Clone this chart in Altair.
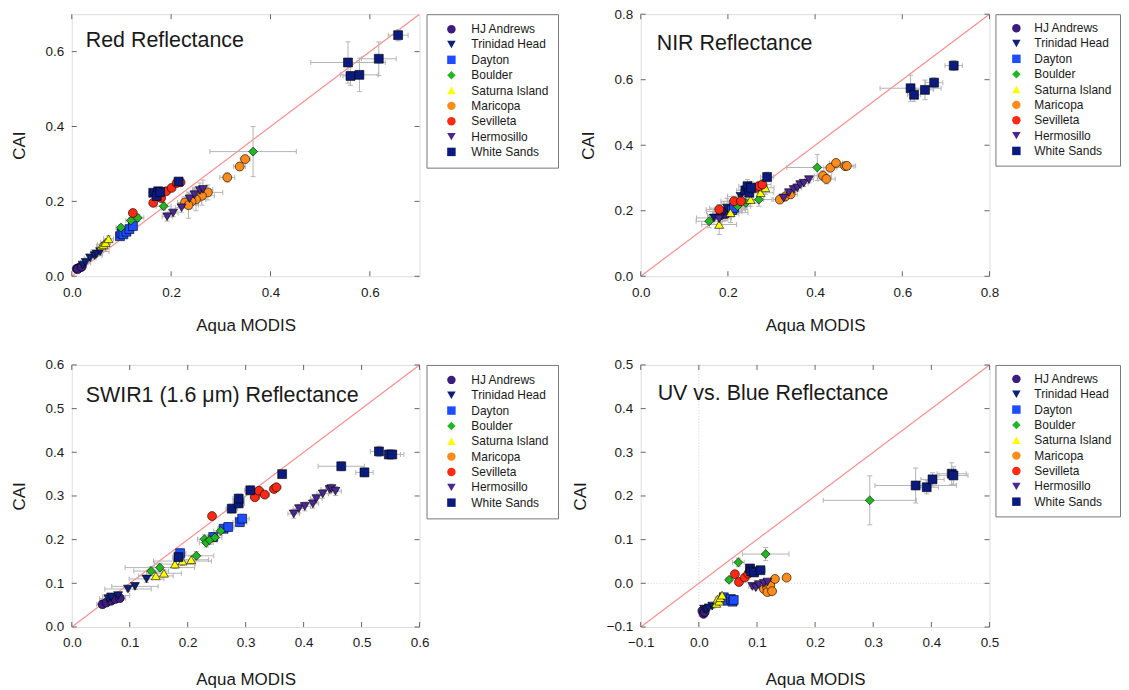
import altair as alt
import pandas as pd

FONT = "Liberation Sans"
SITES = ["HJ Andrews", "Trinidad Head", "Dayton", "Boulder", "Saturna Island",
         "Maricopa", "Sevilleta", "Hermosillo", "White Sands"]
COLORS = ["#3c1c7c", "#0d1f78", "#1d4dff", "#22b622", "#ffff00",
          "#ff8c1a", "#ff2a14", "#4a2690", "#0b1a7d"]
SHAPES = ["circle", "triangle-down", "square", "diamond", "triangle-up",
          "circle", "circle", "triangle-down", "square"]

PANEL_TITLES = ["Red Reflectance", "NIR Reflectance",
                "SWIR1 (1.6 \u03bcm) Reflectance", "UV vs. Blue Reflectance"]
DOMAINS = [[0, 0.7], [0, 0.8], [0, 0.6], [-0.1, 0.5]]
TICKS = [[0, 0.2, 0.4, 0.6], [0, 0.2, 0.4, 0.6, 0.8],
         [0, 0.1, 0.2, 0.3, 0.4, 0.5, 0.6], [-0.1, 0, 0.1, 0.2, 0.3, 0.4, 0.5]]
X_TITLE = "Aqua MODIS"
Y_TITLE = "CAI"

# (x, y, x error, y error)
RED_HJ_ANDREWS = [(0.010, 0.020, 0.004, 0.003), (0.014, 0.022, 0.004, 0.003), (0.017, 0.024, 0.005, 0.003),
                  (0.012, 0.019, 0.004, 0.003), (0.020, 0.025, 0.005, 0.004)]
RED_TRINIDAD_HEAD = [(0.022, 0.030, 0.008, 0.004), (0.028, 0.037, 0.010, 0.005), (0.037, 0.049, 0.012, 0.006),
                     (0.046, 0.055, 0.015, 0.006), (0.050, 0.060, 0.012, 0.006), (0.057, 0.066, 0.018, 0.008)]
RED_DAYTON = [(0.097, 0.107, 0.008, 0.006), (0.100, 0.115, 0.008, 0.006), (0.104, 0.112, 0.008, 0.006),
              (0.110, 0.119, 0.008, 0.006), (0.116, 0.126, 0.009, 0.007), (0.123, 0.134, 0.010, 0.007)]
RED_BOULDER = [(0.099, 0.130, 0.010, 0.008), (0.119, 0.149, 0.010, 0.008), (0.133, 0.156, 0.012, 0.009),
               (0.185, 0.187, 0.015, 0.010), (0.365, 0.333, 0.087, 0.067)]
RED_SATURNA = [(0.060, 0.081, 0.010, 0.006), (0.064, 0.085, 0.012, 0.007), (0.068, 0.090, 0.010, 0.007),
               (0.074, 0.100, 0.010, 0.008)]
RED_MARICOPA = [(0.349, 0.313, 0.010, 0.010), (0.338, 0.293, 0.012, 0.010), (0.313, 0.264, 0.015, 0.012),
                (0.274, 0.224, 0.030, 0.020), (0.262, 0.215, 0.025, 0.025), (0.250, 0.205, 0.020, 0.030),
                (0.241, 0.200, 0.020, 0.020), (0.228, 0.197, 0.015, 0.015), (0.235, 0.190, 0.020, 0.035)]
RED_SEVILLETA = [(0.123, 0.169, 0.005, 0.005), (0.164, 0.196, 0.006, 0.006), (0.180, 0.209, 0.006, 0.006),
                 (0.190, 0.227, 0.006, 0.006), (0.201, 0.236, 0.006, 0.006), (0.211, 0.249, 0.006, 0.006),
                 (0.219, 0.251, 0.006, 0.006)]
RED_HERMOSILLO = [(0.192, 0.159, 0.010, 0.012), (0.204, 0.169, 0.010, 0.010), (0.221, 0.183, 0.012, 0.012),
                  (0.237, 0.207, 0.015, 0.015), (0.247, 0.218, 0.015, 0.020), (0.258, 0.229, 0.015, 0.020),
                  (0.264, 0.232, 0.020, 0.025)]
RED_WHITE_SANDS = [(0.556, 0.571, 0.075, 0.055), (0.561, 0.535, 0.015, 0.025), (0.579, 0.538, 0.038, 0.045),
                   (0.618, 0.581, 0.035, 0.045), (0.657, 0.644, 0.020, 0.015), (0.164, 0.223, 0.008, 0.006),
                   (0.174, 0.227, 0.008, 0.006), (0.171, 0.214, 0.008, 0.006), (0.178, 0.225, 0.008, 0.006),
                   (0.215, 0.253, 0.006, 0.005)]

NIR_HJ_ANDREWS = [(0.183, 0.186, 0.03, 0.02), (0.195, 0.190, 0.03, 0.02), (0.203, 0.199, 0.03, 0.02),
                  (0.210, 0.205, 0.03, 0.02)]
NIR_TRINIDAD_HEAD = [(0.168, 0.178, 0.04, 0.02), (0.191, 0.198, 0.04, 0.03), (0.198, 0.208, 0.04, 0.03),
                     (0.215, 0.220, 0.03, 0.02), (0.229, 0.244, 0.03, 0.02)]
NIR_DAYTON = [(0.210, 0.202, 0.03, 0.02), (0.214, 0.209, 0.03, 0.02)]
NIR_BOULDER = [(0.157, 0.168, 0.03, 0.02), (0.222, 0.214, 0.03, 0.02), (0.241, 0.224, 0.03, 0.02),
               (0.271, 0.234, 0.03, 0.02), (0.405, 0.332, 0.07, 0.04)]
NIR_SATURNA = [(0.180, 0.158, 0.04, 0.03), (0.206, 0.194, 0.04, 0.03), (0.252, 0.234, 0.03, 0.02),
               (0.275, 0.255, 0.03, 0.02), (0.286, 0.270, 0.02, 0.02)]
NIR_MARICOPA = [(0.319, 0.234, 0.015, 0.01), (0.332, 0.244, 0.015, 0.01), (0.344, 0.250, 0.015, 0.01),
                (0.418, 0.307, 0.020, 0.015), (0.426, 0.297, 0.020, 0.015), (0.435, 0.331, 0.015, 0.01),
                (0.448, 0.346, 0.015, 0.01), (0.469, 0.336, 0.020, 0.01), (0.473, 0.337, 0.020, 0.01)]
NIR_SEVILLETA = [(0.180, 0.204, 0.03, 0.015), (0.214, 0.229, 0.03, 0.015), (0.230, 0.229, 0.03, 0.015),
                 (0.264, 0.270, 0.02, 0.015), (0.271, 0.275, 0.02, 0.015), (0.279, 0.280, 0.02, 0.015)]
NIR_HERMOSILLO = [(0.180, 0.175, 0.02, 0.015), (0.328, 0.239, 0.01, 0.01), (0.340, 0.255, 0.01, 0.01),
                  (0.351, 0.265, 0.01, 0.01), (0.359, 0.270, 0.01, 0.01), (0.366, 0.280, 0.01, 0.01),
                  (0.374, 0.284, 0.01, 0.01), (0.386, 0.295, 0.01, 0.01)]
NIR_WHITE_SANDS = [(0.619, 0.574, 0.07, 0.04), (0.627, 0.554, 0.015, 0.02), (0.652, 0.569, 0.02, 0.03),
                   (0.673, 0.591, 0.02, 0.015), (0.718, 0.643, 0.02, 0.015), (0.240, 0.262, 0.02, 0.02),
                   (0.245, 0.275, 0.02, 0.02), (0.249, 0.255, 0.02, 0.02), (0.253, 0.270, 0.02, 0.02),
                   (0.290, 0.303, 0.015, 0.015)]

SWIR_HJ_ANDREWS = [(0.053, 0.052, 0.01, 0.005), (0.060, 0.056, 0.01, 0.005), (0.068, 0.060, 0.01, 0.005),
                   (0.075, 0.064, 0.01, 0.005), (0.083, 0.066, 0.01, 0.005)]
SWIR_TRINIDAD_HEAD = [(0.063, 0.065, 0.015, 0.005), (0.068, 0.069, 0.015, 0.005), (0.080, 0.072, 0.02, 0.006),
                      (0.097, 0.087, 0.04, 0.006), (0.109, 0.093, 0.04, 0.007), (0.129, 0.110, 0.03, 0.008)]
SWIR_DAYTON = [(0.187, 0.169, 0.01, 0.01), (0.244, 0.206, 0.01, 0.01), (0.262, 0.225, 0.01, 0.01),
               (0.270, 0.229, 0.01, 0.01), (0.290, 0.240, 0.012, 0.01), (0.294, 0.248, 0.012, 0.01)]
SWIR_BOULDER = [(0.137, 0.128, 0.03, 0.01), (0.152, 0.136, 0.06, 0.01), (0.215, 0.163, 0.03, 0.01),
                (0.229, 0.201, 0.012, 0.01), (0.232, 0.193, 0.012, 0.01), (0.238, 0.199, 0.012, 0.01),
                (0.247, 0.205, 0.012, 0.01), (0.257, 0.220, 0.012, 0.01)]
SWIR_SATURNA = [(0.145, 0.117, 0.03, 0.008), (0.159, 0.123, 0.03, 0.008), (0.178, 0.144, 0.035, 0.01),
                (0.191, 0.151, 0.05, 0.01), (0.206, 0.154, 0.03, 0.01)]
SWIR_MARICOPA = []
SWIR_SEVILLETA = [(0.242, 0.254, 0.005, 0.005), (0.316, 0.297, 0.008, 0.006), (0.323, 0.312, 0.008, 0.006),
                  (0.333, 0.303, 0.008, 0.006), (0.349, 0.316, 0.008, 0.006), (0.353, 0.320, 0.008, 0.006)]
SWIR_HERMOSILLO = [(0.383, 0.259, 0.01, 0.01), (0.392, 0.271, 0.01, 0.01), (0.402, 0.276, 0.01, 0.01),
                   (0.416, 0.282, 0.01, 0.01), (0.422, 0.294, 0.01, 0.01), (0.433, 0.305, 0.01, 0.01),
                   (0.445, 0.315, 0.015, 0.01), (0.448, 0.317, 0.01, 0.01), (0.455, 0.311, 0.01, 0.01)]
SWIR_WHITE_SANDS = [(0.184, 0.160, 0.01, 0.01), (0.276, 0.271, 0.01, 0.01), (0.288, 0.283, 0.01, 0.01),
                    (0.288, 0.294, 0.01, 0.01), (0.308, 0.313, 0.01, 0.01), (0.363, 0.350, 0.005, 0.005),
                    (0.465, 0.368, 0.04, 0.01), (0.505, 0.354, 0.015, 0.01), (0.530, 0.402, 0.015, 0.012),
                    (0.547, 0.395, 0.02, 0.01), (0.553, 0.395, 0.02, 0.01)]

UV_HJ_ANDREWS = [(0.006, -0.063, 0.005, 0.005), (0.008, -0.070, 0.005, 0.005), (0.010, -0.066, 0.005, 0.005)]
UV_TRINIDAD_HEAD = [(0.009, -0.059, 0.005, 0.005), (0.013, -0.060, 0.005, 0.005), (0.017, -0.056, 0.005, 0.005),
                    (0.023, -0.052, 0.005, 0.005)]
UV_DAYTON = [(0.043, -0.032, 0.005, 0.005), (0.050, -0.040, 0.005, 0.005), (0.055, -0.036, 0.005, 0.005),
             (0.058, -0.042, 0.005, 0.005), (0.060, -0.038, 0.005, 0.005)]
UV_BOULDER = [(0.052, 0.008, 0.005, 0.005), (0.068, 0.048, 0.01, 0.01), (0.115, 0.067, 0.04, 0.015),
              (0.294, 0.190, 0.08, 0.056)]
UV_SATURNA = [(0.030, -0.046, 0.004, 0.004), (0.032, -0.036, 0.004, 0.004), (0.035, -0.041, 0.004, 0.004),
              (0.037, -0.033, 0.004, 0.004), (0.040, -0.027, 0.004, 0.004)]
UV_MARICOPA = [(0.112, -0.013, 0.006, 0.005), (0.117, -0.008, 0.006, 0.005), (0.118, -0.020, 0.006, 0.005),
               (0.123, -0.005, 0.006, 0.005), (0.126, -0.018, 0.006, 0.005), (0.131, 0.010, 0.006, 0.005),
               (0.151, 0.013, 0.006, 0.005)]
UV_SEVILLETA = [(0.062, 0.021, 0.005, 0.005), (0.069, 0.003, 0.005, 0.005), (0.079, 0.013, 0.005, 0.005),
                (0.085, 0.022, 0.005, 0.005)]
UV_HERMOSILLO = [(0.092, -0.007, 0.006, 0.005), (0.098, -0.010, 0.006, 0.005), (0.103, -0.003, 0.006, 0.005),
                 (0.112, 0.000, 0.006, 0.005), (0.118, 0.003, 0.006, 0.005)]
UV_WHITE_SANDS = [(0.088, 0.034, 0.008, 0.008), (0.090, 0.027, 0.008, 0.008), (0.095, 0.025, 0.008, 0.008),
                  (0.106, 0.030, 0.008, 0.008), (0.373, 0.224, 0.07, 0.04), (0.392, 0.220, 0.02, 0.015),
                  (0.402, 0.238, 0.02, 0.015), (0.435, 0.251, 0.025, 0.025), (0.438, 0.247, 0.025, 0.02)]

PANEL_DATA = [
    [RED_HJ_ANDREWS, RED_TRINIDAD_HEAD, RED_DAYTON, RED_BOULDER, RED_SATURNA,
     RED_MARICOPA, RED_SEVILLETA, RED_HERMOSILLO, RED_WHITE_SANDS],
    [NIR_HJ_ANDREWS, NIR_TRINIDAD_HEAD, NIR_DAYTON, NIR_BOULDER, NIR_SATURNA,
     NIR_MARICOPA, NIR_SEVILLETA, NIR_HERMOSILLO, NIR_WHITE_SANDS],
    [SWIR_HJ_ANDREWS, SWIR_TRINIDAD_HEAD, SWIR_DAYTON, SWIR_BOULDER, SWIR_SATURNA,
     SWIR_MARICOPA, SWIR_SEVILLETA, SWIR_HERMOSILLO, SWIR_WHITE_SANDS],
    [UV_HJ_ANDREWS, UV_TRINIDAD_HEAD, UV_DAYTON, UV_BOULDER, UV_SATURNA,
     UV_MARICOPA, UV_SEVILLETA, UV_HERMOSILLO, UV_WHITE_SANDS],
]

# layout / style (not data)
WIDTHS = [349, 350, 349, 350]
HEIGHT = 263
TITLE_DX = [14, 16, 14, 17]
TITLE_DY = [33, 36, 37, 35]
X_TITLE_PAD = [19, 19, 22, 22]
LEG_PAD = [9, 8, 9, 8]
LEG_SYM_OFF = [10, 7, 10, 7]
LEG_LAB_OFF = [14, 12, 14, 12]
LEG_OFFSET = [7, 6, 7, 6]
FRAME = "#666666"
ERR = "#b4b4b4"
TXT = "#1a1a1a"
TICK_LEN = 5


def panel_frame(series_list):
    rows = []
    for site, series in zip(SITES, series_list):
        for x, y, xe, ye in series:
            rows.append(dict(site=site, x=x, y=y, xlo=x - xe, xhi=x + xe, ylo=y - ye, yhi=y + ye))
    return pd.DataFrame(rows)


def make_panel(i):
    df = panel_frame(PANEL_DATA[i])
    dom = DOMAINS[i]
    ticks = TICKS[i]
    w, h = WIDTHS[i], HEIGHT
    sx = alt.Scale(domain=dom, nice=False, zero=False, padding=0)
    sy = alt.Scale(domain=dom, nice=False, zero=False, padding=0)
    ax = alt.Axis(values=ticks, format=".1f", title=X_TITLE, domain=False, ticks=False, grid=False,
                  labelFlush=False, labelOverlap=False,
                  labelFont=FONT, labelFontSize=13.5, labelColor=TXT, labelPadding=9,
                  titleFont=FONT, titleFontSize=17, titleFontWeight="normal", titleColor=TXT,
                  titlePadding=X_TITLE_PAD[i])
    ay = alt.Axis(values=ticks, format=".1f", title=Y_TITLE, domain=False, ticks=False, grid=False,
                  labelFlush=False, labelOverlap=False,
                  labelFont=FONT, labelFontSize=13.5, labelColor=TXT, labelPadding=8,
                  titleFont=FONT, titleFontSize=17, titleFontWeight="normal", titleColor=TXT,
                  titlePadding=17)

    def X(f):
        return alt.X(f, type="quantitative", scale=sx, axis=ax)

    def Y(f):
        return alt.Y(f, type="quantitative", scale=sy, axis=ay)

    layers = []
    if dom[0] < 0:
        zdf = pd.DataFrame({"z": [0.0]})
        layers.append(alt.Chart(zdf).mark_rule(color="#d4d4d4", strokeDash=[1, 2], strokeWidth=1)
                      .encode(x=X("z")))
        layers.append(alt.Chart(zdf).mark_rule(color="#d4d4d4", strokeDash=[1, 2], strokeWidth=1)
                      .encode(y=Y("z")))

    ldf = pd.DataFrame({"v": dom})
    layers.append(alt.Chart(ldf).mark_line(color="#f59090", strokeWidth=1.2, clip=True)
                  .encode(x=X("v"), y=Y("v")))

    layers.append(alt.Chart(df).mark_rule(color=ERR, strokeWidth=1)
                  .encode(x=X("xlo"), x2="xhi", y=Y("y")))
    layers.append(alt.Chart(df).mark_rule(color=ERR, strokeWidth=1)
                  .encode(x=X("x"), y=Y("ylo"), y2="yhi"))
    for col in ["xlo", "xhi"]:
        layers.append(alt.Chart(df).mark_tick(orient="vertical", color=ERR, size=5, thickness=1, opacity=1)
                      .encode(x=X(col), y=Y("y")))
    for col in ["ylo", "yhi"]:
        layers.append(alt.Chart(df).mark_tick(orient="horizontal", color=ERR, size=5, thickness=1, opacity=1)
                      .encode(x=X("x"), y=Y(col)))

    legend = alt.Legend(title=None, orient="right", offset=LEG_OFFSET[i], padding=LEG_PAD[i],
                        strokeColor="#777777",
                        labelFont=FONT, labelFontSize=12, labelColor=TXT, labelOffset=LEG_LAB_OFF[i],
                        symbolSize=72, symbolStrokeWidth=0, symbolOpacity=1, rowPadding=3.4,
                        symbolOffset=LEG_SYM_OFF[i], labelLimit=200)
    layers.append(
        alt.Chart(df).mark_point(filled=True, size=80, stroke="black", strokeWidth=0.6, opacity=1)
        .encode(
            x=X("x"),
            y=Y("y"),
            color=alt.Color("site:N", scale=alt.Scale(domain=SITES, range=COLORS), legend=legend),
            shape=alt.Shape("site:N", scale=alt.Scale(domain=SITES, range=SHAPES), legend=legend),
        )
    )

    tdf = pd.DataFrame({"t": ticks})
    layers.append(alt.Chart(tdf).mark_rule(color=FRAME).encode(
        y=Y("t"), x=alt.value(0), x2=alt.value(TICK_LEN)))
    layers.append(alt.Chart(tdf).mark_rule(color=FRAME).encode(
        y=Y("t"), x=alt.value(w - TICK_LEN), x2=alt.value(w)))
    layers.append(alt.Chart(tdf).mark_rule(color=FRAME).encode(
        x=X("t"), y=alt.value(0), y2=alt.value(TICK_LEN)))
    layers.append(alt.Chart(tdf).mark_rule(color=FRAME).encode(
        x=X("t"), y=alt.value(h - TICK_LEN), y2=alt.value(h)))

    layers.append(alt.Chart(pd.DataFrame({"label": [PANEL_TITLES[i]]}))
                  .mark_text(align="left", baseline="alphabetic", font=FONT, fontSize=21.5, color=TXT)
                  .encode(x=alt.value(TITLE_DX[i]), y=alt.value(TITLE_DY[i]), text="label:N"))

    return alt.layer(*layers).properties(width=w, height=h)


res = dict(x="independent", y="independent", color="independent", shape="independent")
chart = (
    alt.concat(make_panel(0), make_panel(1), make_panel(2), make_panel(3),
               columns=2, spacing={"row": 89, "column": 222}, bounds="flush")
    .resolve_scale(**res)
    .properties(padding={"left": 1, "top": -3, "right": 0, "bottom": 0})
    .configure_view(stroke=FRAME, strokeWidth=1)
    .configure(background="white")
)

chart.save("out.html", embed_options={"renderer": "svg", "actions": False})
